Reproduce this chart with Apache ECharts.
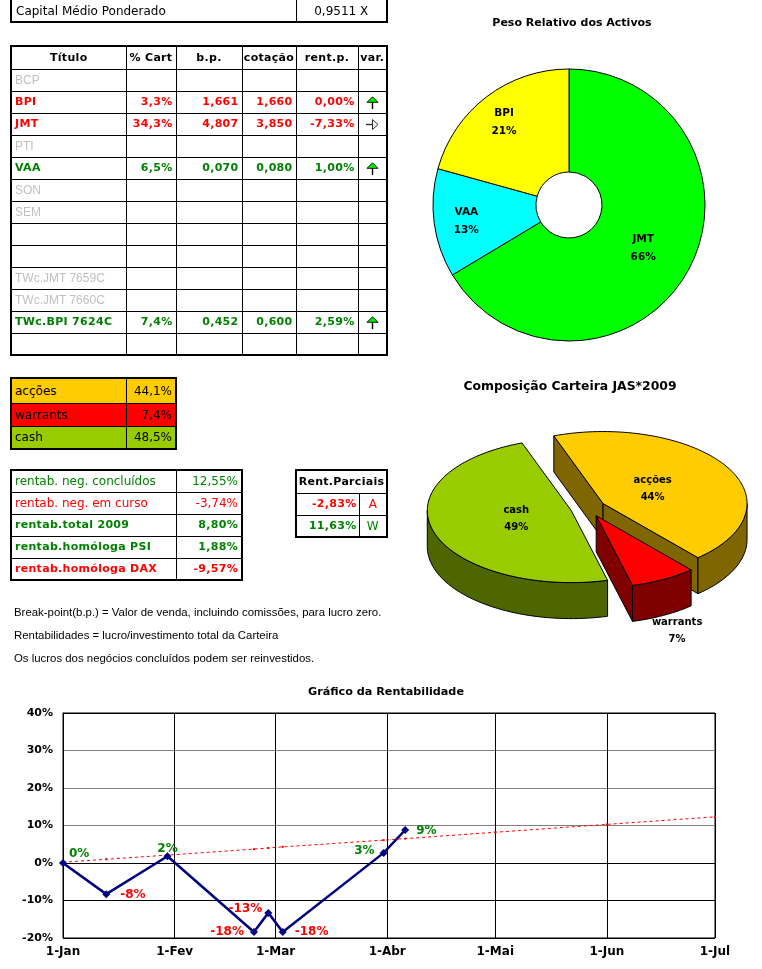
<!DOCTYPE html>
<html><head><meta charset="utf-8">
<script src="https://cdn.jsdelivr.net/npm/echarts@6/dist/echarts.min.js"></script>
<style>
html,body{margin:0;padding:0;background:#fff;width:762px;height:969px;overflow:hidden;font-family:"DejaVu Sans",sans-serif;}
#chart{position:absolute;left:0;top:0;width:762px;height:969px;}
.t{position:absolute;border-collapse:collapse;table-layout:fixed;border:2px solid #000;z-index:2;}
.t td{border:1px solid #000;padding:0 3px;font-size:12px;white-space:nowrap;overflow:hidden;line-height:14px;}
.b{font-weight:bold;font-size:11px !important;letter-spacing:0.3px;}
.r{text-align:right;}
.c{text-align:center;}
.g{color:#008000;}
.red{color:#FF0000;}
.grey{color:#C0C0C0;font-family:"Liberation Sans",sans-serif;}
.note{position:absolute;left:14px;font-family:"Liberation Sans",sans-serif;font-size:11.4px;color:#000;z-index:2;}
</style>
</head><body>
<div id="chart"></div>
<div id="tables"></div>
<script>
// ---------- data ----------
const capitalLabel = 'Capital Médio Ponderado';
const capitalValue = '0,9511 X';

const tableHeaders = ['Título', '% Cart', 'b.p.', 'cotação', 'rent.p.', 'var.'];
const titles     = ['BCP', 'BPI', 'JMT', 'PTI', 'VAA', 'SON', 'SEM', '', '', 'TWc.JMT 7659C', 'TWc.JMT 7660C', 'TWc.BPI 7624C', ''];
const pctCart    = [null, 3.3, 34.3, null, 6.5, null, null, null, null, null, null, 7.4, null];
const breakPoint = [null, 1.661, 4.807, null, 0.070, null, null, null, null, null, null, 0.452, null];
const quote      = [null, 1.660, 3.850, null, 0.080, null, null, null, null, null, null, 0.600, null];
const rentP      = [null, 0.00, -7.33, null, 1.00, null, null, null, null, null, null, 2.59, null];
const varDir     = [null, 'up', 'right', null, 'up', null, null, null, null, null, null, 'up', null];

const compNames  = ['acções', 'warrants', 'cash'];
const compValues = [44.1, 7.4, 48.5];

const rentLabels = ['rentab. neg. concluídos', 'rentab. neg. em curso', 'rentab.total 2009', 'rentab.homóloga PSI', 'rentab.homóloga DAX'];
const rentTotals = [12.55, -3.74, 8.80, 1.88, -9.57];

const partialTitle = 'Rent.Parciais';
const partialVals = [-2.83, 11.63];
const partialTags = ['A', 'W'];

const notes = [
  'Break-point(b.p.) = Valor de venda, incluindo comissões, para lucro zero.',
  'Rentabilidades = lucro/investimento total da Carteira',
  'Os lucros dos negócios concluídos podem ser reinvestidos.'
];

const assetNames   = ['JMT', 'VAA', 'BPI'];
const assetWeights = [66.4, 12.9, 20.7];

const rentDates  = ['2009-01-01', '2009-01-13', '2009-01-30', '2009-02-23', '2009-02-27', '2009-03-03', '2009-03-31', '2009-04-06'];
const rentValues = [0, -8.3, 1.8, -18.4, -13.3, -18.4, 2.7, 8.8];
const targetDates  = ['2009-01-01', '2009-01-13', '2009-01-30', '2009-02-23', '2009-02-27', '2009-03-03', '2009-03-31', '2009-04-06', '2009-05-01', '2009-06-01', '2009-07-01'];
const targetValues = [0.2, 1.0, 2.1, 3.7, 4.0, 4.3, 6.1, 6.5, 8.2, 10.3, 12.3];
const monthAbbr = ['Jan', 'Fev', 'Mar', 'Abr', 'Mai', 'Jun', 'Jul', 'Ago', 'Set', 'Out', 'Nov', 'Dez'];
const yMin = -20, yMax = 40, yStep = 10;

// ---------- helpers ----------
const fmt = (v, d) => v.toFixed(d).replace('.', ',');
function ts(s) { const [y, m, d] = s.split('-').map(Number); return new Date(y, m - 1, d).getTime(); }
function arrowSvg(dir) {
  if (dir === 'up') return '<svg width="13" height="13" viewBox="0 0 13 13" style="vertical-align:middle"><line x1="6.5" y1="5" x2="6.5" y2="13" stroke="#000" stroke-width="1.4"/><path d="M6.5 0.8 L12 6.3 L1 6.3 Z" fill="#00EE00" stroke="#000" stroke-width="0.9"/></svg>';
  if (dir === 'right') return '<svg width="13" height="13" viewBox="0 0 13 13" style="vertical-align:middle"><line x1="0" y1="6.5" x2="6.5" y2="6.5" stroke="#333" stroke-width="1.4"/><path d="M12 6.5 L6.5 1.5 L6.5 11.5 Z" fill="#F0F0F0" stroke="#333" stroke-width="1"/></svg>';
  return '';
}

// ---------- html tables ----------
let html = '';
html += `<table class="t" style="left:10px;top:-4px;width:376px;border-top:2px solid #000;">
<colgroup><col style="width:285px"><col style="width:91px"></colgroup>
<tr style="height:25px"><td style="vertical-align:bottom;padding-bottom:3px;padding-left:4px">${capitalLabel}</td><td class="c" style="vertical-align:bottom;padding-bottom:3px">${capitalValue}</td></tr></table>`;

html += `<table class="t" style="left:10px;top:45px;width:376px;">
<colgroup><col style="width:115px"><col style="width:50px"><col style="width:66px"><col style="width:54px"><col style="width:62px"><col style="width:29px"></colgroup>
<tr style="height:23px">${tableHeaders.map(h => `<td class="c b" style="padding:0 1px">${h}</td>`).join('')}</tr>`;
titles.forEach((t, i) => {
  const active = pctCart[i] !== null;
  if (!active) {
    html += `<tr style="height:22px"><td class="grey">${t}</td><td></td><td></td><td></td><td></td><td></td></tr>`;
  } else {
    const col = quote[i] < breakPoint[i] ? 'red' : 'g';
    html += `<tr style="height:22px"><td class="b ${col}">${t}</td><td class="b r ${col}">${fmt(pctCart[i], 1)}%</td><td class="b r ${col}">${fmt(breakPoint[i], 3)}</td><td class="b r ${col}">${fmt(quote[i], 3)}</td><td class="b r ${col}">${fmt(rentP[i], 2)}%</td><td class="c" style="padding:0">${arrowSvg(varDir[i])}</td></tr>`;
  }
});
html += '</table>';

const compBg = ['#FFCC00', '#FF0000', '#99CC00'];
html += `<table class="t" style="left:10px;top:377px;width:165px;">
<colgroup><col style="width:115px"><col style="width:50px"></colgroup>`;
compNames.forEach((n, i) => {
  html += `<tr style="height:${i === 0 ? 25 : 23}px;background:${compBg[i]}"><td>${n}</td><td class="r">${fmt(compValues[i], 1)}%</td></tr>`;
});
html += '</table>';

html += `<table class="t" style="left:10px;top:469px;width:231px;">
<colgroup><col style="width:165px"><col style="width:66px"></colgroup>`;
rentLabels.forEach((l, i) => {
  const col = rentTotals[i] < 0 ? 'red' : 'g';
  const bold = i >= 2 ? 'b' : '';
  html += `<tr style="height:22px"><td class="${col} ${bold}">${l}</td><td class="r ${col} ${bold}">${fmt(rentTotals[i], 2)}%</td></tr>`;
});
html += '</table>';

html += `<table class="t" style="left:295px;top:469px;width:91px;">
<colgroup><col style="width:63px"><col style="width:28px"></colgroup>
<tr style="height:23px"><td colspan="2" class="b c" style="padding:0">${partialTitle}</td></tr>`;
partialVals.forEach((v, i) => {
  const col = v < 0 ? 'red' : 'g';
  html += `<tr style="height:22px"><td class="b r ${col}" style="padding:0 2px">${fmt(v, 2)}%</td><td class="c ${col}">${partialTags[i]}</td></tr>`;
});
html += '</table>';

notes.forEach((n, i) => {
  html += `<div class="note" style="top:${606 + i * 23}px">${n}</div>`;
});
document.getElementById('tables').innerHTML = html;

// ---------- 3D pie (custom series) ----------
const FONT = '"DejaVu Sans", sans-serif';
const P3D = { cx: 588, cy: 508, rx: 144, ry: 72, depth: 36, explode: 17.5, start: -20 };
const compTop  = ['#FFCC00', '#FF0000', '#99CC00'];
const compSide = ['#806600', '#800000', '#4D6600'];
const drawOrder = [0, 2, 1];

function renderPie3D(params, api) {
  const i = params.dataIndex;
  const total = compValues.reduce((a, b) => a + b, 0);
  let acc = 0;
  for (let k = 0; k < i; k++) acc += compValues[k];
  const v = api.value(0);
  const a0 = P3D.start + acc / total * 360;
  const a1 = a0 + v / total * 360;
  const am = (a0 + a1) / 2;
  const rad = d => d * Math.PI / 180;
  const kk = P3D.ry / P3D.rx;
  const D = P3D.depth;
  const ox = P3D.cx + P3D.explode * Math.sin(rad(am));
  const oy = P3D.cy - P3D.explode * kk * Math.cos(rad(am));
  const pt = (a, dy) => [ox + P3D.rx * Math.sin(rad(a)), oy - P3D.ry * Math.cos(rad(a)) + (dy || 0)];
  const arc = (s, e, dy) => {
    const n = Math.max(2, Math.ceil(Math.abs(e - s) / 2));
    const r = [];
    for (let j = 0; j <= n; j++) r.push(pt(s + (e - s) * j / n, dy));
    return r;
  };
  const zb = drawOrder.indexOf(i) * 10;
  const children = [];
  const sideStyle = { fill: compSide[i], stroke: '#000', lineWidth: 1 };
  [[a0, a0 - 90], [a1, a1 + 90]].forEach(([a, n]) => {
    if (Math.cos(rad(n)) < 0) {
      const p = pt(a);
      children.push({ type: 'polygon', z2: zb + 1,
        shape: { points: [[ox, oy], p, [p[0], p[1] + D], [ox, oy + D]] }, style: sideStyle });
    }
  });
  [[90, 270], [450, 630], [-270, -90]].forEach(([f0, f1]) => {
    const s = Math.max(a0, f0), e = Math.min(a1, f1);
    if (e > s) {
      const top = arc(s, e, 0);
      const bot = arc(s, e, D).reverse();
      children.push({ type: 'polygon', z2: zb + 2, shape: { points: top.concat(bot) }, style: sideStyle });
    }
  });
  children.push({ type: 'polygon', z2: zb + 3,
    shape: { points: [[ox, oy]].concat(arc(a0, a1, 0)) },
    style: { fill: compTop[i], stroke: '#000', lineWidth: 1 } });
  const pct = Math.round(v / total * 100);
  let lx, ly;
  if (pct < 10) {
    lx = ox + 1.2 * P3D.rx * Math.sin(rad(am));
    ly = oy - 1.2 * P3D.ry * Math.cos(rad(am)) + D + 3;
  } else {
    lx = ox + 0.40 * P3D.rx * Math.sin(rad(am));
    ly = oy - 0.40 * P3D.ry * Math.cos(rad(am));
  }
  children.push({ type: 'text', z2: 100, x: lx, y: ly,
    style: { text: compNames[i] + '\n' + pct + '%', fill: '#000', font: 'bold 10px ' + FONT,
      align: 'center', verticalAlign: 'middle', textAlign: 'center', textVerticalAlign: 'middle', lineHeight: 17 } });
  return { type: 'group', children };
}

// ---------- line data ----------
const rentLabelPlacement = [
  ['right', 2, [0, -9]], ['right', 10, [0, 1]], ['top', 0, [0, 3]], ['left', 6, [0, 0]],
  ['left', 2, [0, -4]], ['right', 8, [0, 0]], ['left', 5, [0, -2]], ['right', 7, [0, 1]]
];
const rentData = rentDates.map((d, i) => ({
  value: [ts(d), rentValues[i]],
  label: { position: rentLabelPlacement[i][0], distance: rentLabelPlacement[i][1], offset: rentLabelPlacement[i][2],
    color: rentValues[i] < 0 ? '#FF0000' : '#008000' }
}));
const targetData = targetDates.map((d, i) => [ts(d), targetValues[i]]);

// donut label nudges (layout only)
const donutColors = ['#00FF00', '#00FFFF', '#FFFF00'];
const donutLabelOffsets = [[-2, 0], [-16, 4], [-12, -13]];

const chart = echarts.init(document.getElementById('chart'));
const titleStyle = (text, x, y, size) => ({
  type: 'text', x, y, silent: true,
  style: { text, font: 'bold ' + size + 'px ' + FONT, fill: '#000', align: 'center', verticalAlign: 'middle', textAlign: 'center', textVerticalAlign: 'middle' }
});
chart.setOption({
  animation: false,
  textStyle: { fontFamily: FONT },
  graphic: [
    titleStyle('Peso Relativo dos Activos', 572, 23, 11),
    titleStyle('Composição Carteira JAS*2009', 570, 387, 12.4),
    titleStyle('Gráfico da Rentabilidade', 386, 692, 11.2)
  ],
  grid: { left: 63, right: 47, top: 713, bottom: 31, show: true, borderColor: '#000', borderWidth: 1 },
  xAxis: {
    type: 'time', min: ts('2009-01-01'), max: ts('2009-07-01'),
    minInterval: 28 * 864e5, maxInterval: 31 * 864e5,
    axisLine: { lineStyle: { color: '#000', width: 1 } },
    axisTick: { show: false },
    splitLine: { show: true, lineStyle: { color: '#000', width: 1 } },
    axisLabel: {
      color: '#000', fontWeight: 'bold', fontSize: 12, fontFamily: FONT, margin: 8,
      showMinLabel: true, showMaxLabel: true,
      formatter: val => { const d = new Date(val); return d.getDate() + '-' + monthAbbr[d.getMonth()]; }
    }
  },
  yAxis: {
    type: 'value', min: yMin, max: yMax, interval: yStep,
    axisLine: { show: true, lineStyle: { color: '#000' } },
    axisTick: { show: false },
    splitLine: { show: true, lineStyle: { color: ['#000', '#000', '#808080', '#808080', '#808080', '#808080', '#000'], width: 1 } },
    axisLabel: { color: '#000', fontWeight: 'bold', fontSize: 11, fontFamily: FONT, margin: 10, formatter: '{value}%' }
  },
  series: [
    {
      type: 'pie', center: [569, 205], radius: [33, 136], startAngle: 90, clockwise: true,
      percentPrecision: 0, silent: true, avoidLabelOverlap: false,
      label: { show: true, position: 'inside', formatter: '{b}\n{d}%', color: '#000', fontWeight: 'bold', fontSize: 10.5, lineHeight: 18, fontFamily: FONT },
      labelLine: { show: false },
      itemStyle: { borderColor: '#000', borderWidth: 1 },
      emphasis: { disabled: true },
      data: assetNames.map((n, i) => ({ name: n, value: assetWeights[i], itemStyle: { color: donutColors[i] }, label: { offset: donutLabelOffsets[i] } }))
    },
    {
      type: 'custom', coordinateSystem: 'none', silent: true,
      renderItem: renderPie3D,
      data: compValues.map(v => [v])
    },
    {
      type: 'line', data: targetData, z: 3, silent: true,
      symbol: 'rect', symbolSize: 2, itemStyle: { color: '#FF0000' },
      lineStyle: { color: '#FF0000', width: 1, type: [3, 3] },
      emphasis: { disabled: true }
    },
    {
      type: 'line', data: rentData, z: 4, silent: true,
      symbol: 'diamond', symbolSize: 8, itemStyle: { color: '#000080' },
      lineStyle: { color: '#000080', width: 2.5 },
      label: { show: true, fontWeight: 'bold', fontSize: 12, fontFamily: FONT, formatter: p => Math.round(p.value[1]) + '%' },
      emphasis: { disabled: true }
    }
  ]
});
</script>
</body></html>
